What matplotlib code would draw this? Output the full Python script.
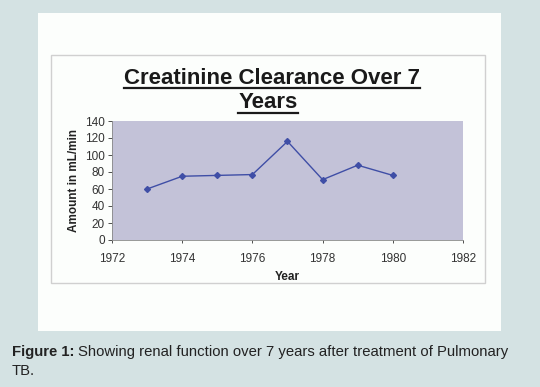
import matplotlib
matplotlib.use("Agg")
import matplotlib.pyplot as plt
from matplotlib.patches import Rectangle

years = [1973, 1974, 1975, 1976, 1977, 1978, 1979, 1980]
clearance = [60, 75, 76, 77, 116, 71, 88, 76]
xticks = [1972, 1974, 1976, 1978, 1980, 1982]
yticks = [0, 20, 40, 60, 80, 100, 120, 140]

W, H = 540, 387
fig = plt.figure(figsize=(W / 100, H / 100), dpi=100)
fig.patch.set_facecolor("#d4e2e3")

def fx(px):
    return px / W

def fy(py):
    return 1 - py / H

# white panel
fig.patches.append(Rectangle((fx(38), fy(331)), fx(501) - fx(38), fy(13) - fy(331),
                             transform=fig.transFigure, facecolor="#fcfefc",
                             edgecolor="none", zorder=-2))
# chart area border
fig.patches.append(Rectangle((fx(51), fy(283)), fx(485) - fx(51), fy(55) - fy(283),
                             transform=fig.transFigure, facecolor="none",
                             edgecolor="#d0d0d0", linewidth=1.0, zorder=-1))

ax = fig.add_axes([fx(112), fy(240), fx(463) - fx(112), fy(121) - fy(240)])
ax.set_facecolor("#c3c2d8")
ax.plot(years, clearance, color="#3f4ea6", linewidth=1.0, marker="D",
        markersize=3, markerfacecolor="#3f4ea6", markeredgecolor="#3f4ea6")
ax.set_xlim(1972, 1982)
ax.set_ylim(0, 140)
ax.set_xticks(xticks)
ax.set_yticks(yticks)
ax.tick_params(axis="x", labelsize=8.5, colors="#333333", length=2, width=0.6, pad=7)
ax.tick_params(axis="y", labelsize=8.5, colors="#333333", length=3, width=0.6, pad=2)
for lab in ax.get_xticklabels() + ax.get_yticklabels():
    lab.set_family("Liberation Sans")
for s in ax.spines.values():
    s.set_color("#888888")
    s.set_linewidth(0.6)
ax.spines["top"].set_visible(False)
ax.spines["right"].set_visible(False)
ax.set_xlabel("Year", fontsize=8.5, fontweight="bold", color="#222222", labelpad=5,
              family="Liberation Sans")
ax.set_ylabel("Amount in mL/min", fontsize=8.5, fontweight="bold", color="#222222",
              labelpad=4, family="Liberation Sans")

title1 = fig.text(fx(272), fy(78), "Creatinine Clearance Over 7", ha="center", va="center",
                  fontsize=16, fontweight="bold", color="#1a1a1a", family="Liberation Sans")
title2 = fig.text(fx(268), fy(103), "Years", ha="center", va="center",
                  fontsize=16, fontweight="bold", color="#1a1a1a", family="Liberation Sans")

fig.canvas.draw()
renderer = fig.canvas.get_renderer()
for t, uy in ((title1, 88), (title2, 113)):
    bb = t.get_window_extent(renderer)
    x0, x1 = bb.x0 / W, bb.x1 / W
    fig.add_artist(plt.Line2D([x0, x1], [fy(uy), fy(uy)], color="#1a1a1a",
                              linewidth=1.6, transform=fig.transFigure))

cap_b = fig.text(fx(12), fy(352), "Figure 1:", ha="left", va="center", fontsize=10.7,
                 fontweight="bold", color="#222222", family="Liberation Sans")
bb = cap_b.get_window_extent(renderer)
fig.text(bb.x1 / W + 4 / W, fy(352),
         "Showing renal function over 7 years after treatment of Pulmonary",
         ha="left", va="center", fontsize=10.7, color="#222222", family="Liberation Sans")
fig.text(fx(12), fy(371), "TB.", ha="left", va="center", fontsize=10.7,
         color="#222222", family="Liberation Sans")

fig.savefig("out.png", dpi=100, facecolor=fig.get_facecolor())
